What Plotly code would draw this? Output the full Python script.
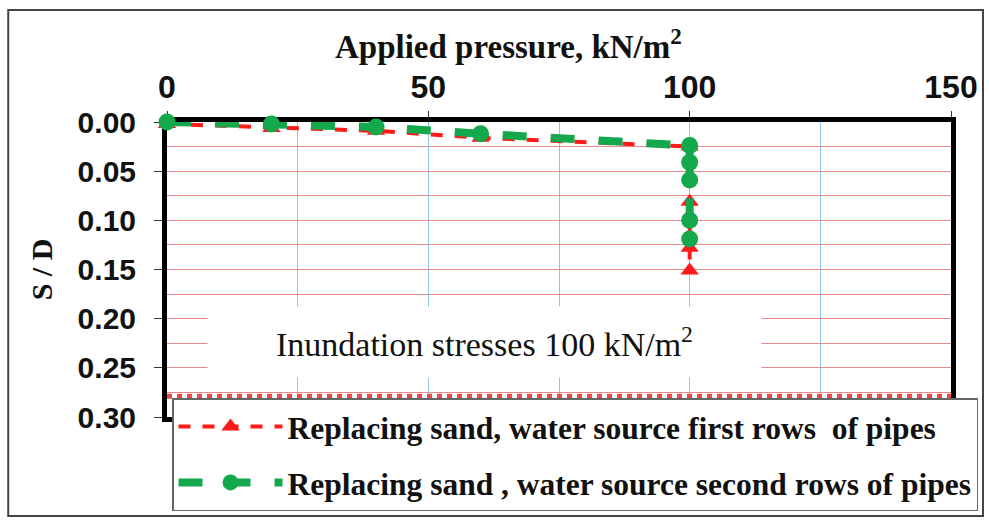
import plotly.graph_objects as go

# Settlement ratio S/D against applied pressure (kN/m2)
pressure_first = [0, 20, 40, 60, 100, 100, 100, 100]
sd_first = [0.002, 0.006, 0.009, 0.016, 0.025, 0.081, 0.128, 0.151]

pressure_second = [0, 20, 40, 60, 100, 100, 100, 100, 100]
sd_second = [0.000, 0.002, 0.005, 0.012, 0.024, 0.041, 0.059, 0.100, 0.119]

name_first = "Replacing sand, water source first rows  of pipes"
name_second = "Replacing sand , water source second rows of pipes"

x_ticks = [0, 50, 100, 150]
y_ticks = [0.00, 0.05, 0.10, 0.15, 0.20, 0.25, 0.30]

SERIF = "Liberation Serif"
SANS = "Liberation Sans"

fig = go.Figure()
fig.add_trace(go.Scatter(
    x=pressure_first, y=sd_first, name=name_first, mode="lines+markers",
    legendgroup="first",
    line=dict(color="#ff1a1a", width=4, dash="dash"),
    marker=dict(symbol="triangle-up", size=16, color="#ff1a1a"),
    cliponaxis=False,
))
fig.add_trace(go.Scatter(
    x=pressure_second, y=sd_second, name=name_second, mode="lines+markers",
    legendgroup="second",
    line=dict(color="#13a84c", width=8, dash="dash"),
    marker=dict(symbol="circle", size=17, color="#13a84c"),
    cliponaxis=False,
))

# Axis title placed above the top tick labels
fig.add_annotation(
    x=(508 - 167) / 784, y=1.0, xref="paper", yref="paper",
    yshift=78, xanchor="center", yanchor="middle",
    text="Applied pressure, kN/m<sup>2</sup>", showarrow=False,
    font=dict(family=SERIF, size=33, color="#111", weight="bold"),
)

# Label box for the inundation stage
fig.add_annotation(
    x=60.8, y=0.2237, xref="x", yref="y",
    text="Inundation stresses 100 kN/m<sup>2</sup>",
    showarrow=False, bgcolor="white", width=551, height=68,
    font=dict(family=SERIF, size=34, color="#111"),
)

# Dotted band just above the legend
fig.add_shape(type="line", xref="x", yref="y", x0=0, x1=150, y0=0.279, y1=0.279,
              line=dict(color="#e84a4a", width=5, dash="dot"), layer="above")

# Outer chart frame
fig.add_shape(type="rect", xref="paper", yref="paper",
              x0=-0.2025, x1=1.0408, y0=-0.3356, y1=1.3797,
              line=dict(color="#444", width=2), layer="below")

fig.update_layout(
    width=989, height=523,
    margin=dict(l=167, r=38, t=122, b=106, pad=0, autoexpand=False),
    paper_bgcolor="white", plot_bgcolor="white",
    showlegend=True,
    legend=dict(
        x=0.0064, y=0.0644, xanchor="left", yanchor="top",
        bgcolor="white", bordercolor="#666", borderwidth=1.5,
        font=dict(family=SERIF, size=31.5, color="#111", weight="bold"),
        itemwidth=104, tracegroupgap=12, traceorder="grouped",
    ),
    xaxis=dict(
        side="top", range=[0, 150], tickvals=x_ticks,
        ticktext=[str(v) for v in x_ticks],
        tickfont=dict(family=SANS, size=32, color="#111", weight="bold"),
        ticks="outside", ticklen=6, tickcolor="#333",
        showline=True, linewidth=5, linecolor="black", mirror=True,
        showgrid=True, gridcolor="#8cc4ea", gridwidth=1,
        minor=dict(dtick=25, showgrid=True, gridcolor="#8cc4ea", gridwidth=1),
        layer="below traces", zeroline=False, automargin=False,
    ),
    yaxis=dict(
        range=[0.30, 0], tickvals=y_ticks,
        ticktext=[f"{v:.2f}" for v in y_ticks],
        tickfont=dict(family=SANS, size=30, color="#111", weight="bold"),
        ticks="outside", ticklen=8, tickcolor="#333", ticklabelstandoff=12,
        showline=True, linewidth=5, linecolor="black", mirror=True,
        showgrid=True, gridcolor="#e98a8a", gridwidth=1,
        minor=dict(dtick=0.025, showgrid=True, gridcolor="#e98a8a", gridwidth=1),
        layer="below traces", zeroline=False, automargin=False,
        title=dict(text="S / D", standoff=18,
                   font=dict(family=SERIF, size=30, color="#111", weight="bold")),
    ),
)

fig.write_html("out.html")
